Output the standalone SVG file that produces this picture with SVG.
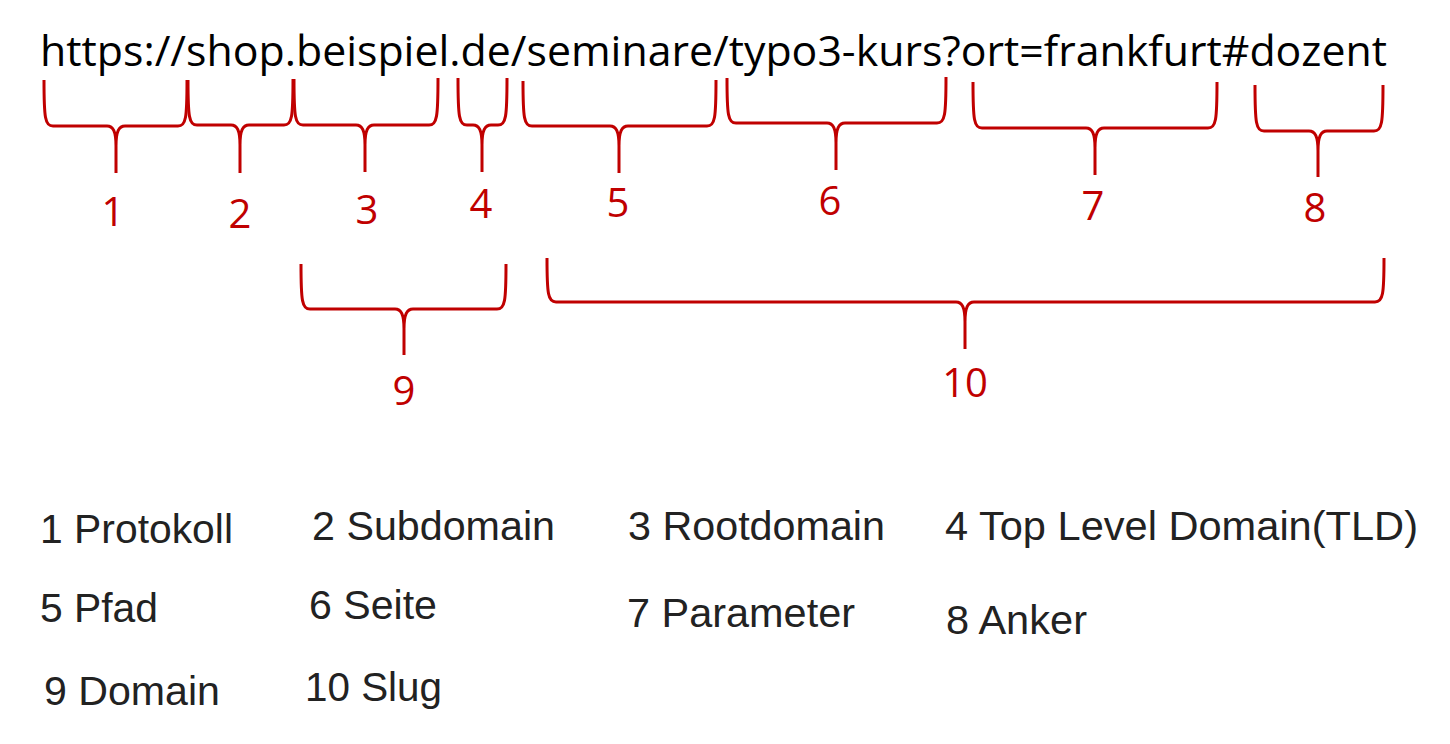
<svg xmlns="http://www.w3.org/2000/svg" width="1450" height="744" viewBox="0 0 1450 744">
<style>
.url{font-family:"Open Sans","Noto Sans",sans-serif;font-size:42px;fill:#000}
.num{font-family:"Open Sans","Noto Sans",sans-serif;font-size:40px;fill:#C00000;text-anchor:middle}
.leg{font-family:"Liberation Sans",Arial,sans-serif;font-size:41px;fill:#222}
.br{fill:none;stroke:#C00000;stroke-width:3;stroke-linejoin:round}
</style>
<rect width="1450" height="744" fill="#fff"/>
<g id="url"><text class="url" x="40" y="66" textLength="1347" lengthAdjust="spacingAndGlyphs">https://shop.beispiel.de/seminare/typo3-kurs?ort=frankfurt#dozent</text></g>
<g id="connectors">
<path class="br" d="M44,80 C44,118 45,126 53,126 L107,126 C113,126 116,131 116,146 L116,173 M116,146 C116,131 119,126 125,126 L178,126 C186,126 187,118 187,80"/>
<path class="br" d="M188,80 C188,117 189,125 197,125 L231,125 C237,125 240,130 240,145 L240,173 M240,145 C240,130 243,125 249,125 L284,125 C292,125 293,117 293,79"/>
<path class="br" d="M294,79 C294,117 295,125 303,125 L356,125 C362,125 365,130 365,145 L365,172 M365,145 C365,130 368,125 374,125 L429,125 C437,125 438,117 438,78"/>
<path class="br" d="M458,78 C458,117 459,125 467,125 L473,125 C479,125 482,130 482,145 L482,172 M482,145 C482,130 485,125 491,125 L498,125 C506,125 507,117 507,78"/>
<path class="br" d="M523,81 C523,118 524,126 532,126 L610,126 C616,126 619,131 619,146 L619,173 M619,146 C619,131 622,126 628,126 L707,126 C715,126 716,118 716,80"/>
<path class="br" d="M727,78 C727,115 728,123 736,123 L827,123 C833,123 836,128 836,143 L836,170 M836,143 C836,128 839,123 845,123 L937,123 C945,123 946,115 946,77"/>
<path class="br" d="M973,82 C973,120 974,128 982,128 L1086,128 C1092,128 1095,133 1095,148 L1095,175 M1095,148 C1095,133 1098,128 1104,128 L1208,128 C1216,128 1217,120 1217,82"/>
<path class="br" d="M1255,85 C1255,123 1256,131 1264,131 L1309,131 C1315,131 1318,136 1318,151 L1318,177 M1318,151 C1318,136 1321,131 1327,131 L1374,131 C1382,131 1383,123 1383,85"/>
<path class="br" d="M301,264 C301,301 302,309 310,309 L395,309 C401,309 404,314 404,329 L404,355 M404,329 C404,314 407,309 413,309 L497,309 C505,309 506,301 506,264"/>
<path class="br" d="M547,258 C547,294 548,302 556,302 L956,302 C962,302 965,307 965,322 L965,349 M965,322 C965,307 968,302 974,302 L1375,302 C1383,302 1384,294 1384,258"/>
</g>
<g id="n1"><text class="num" x="113" y="226">1</text></g>
<g id="n2"><text class="num" x="240" y="228">2</text></g>
<g id="n3"><text class="num" x="367" y="224">3</text></g>
<g id="n4"><text class="num" x="481" y="218">4</text></g>
<g id="n5"><text class="num" x="618" y="217">5</text></g>
<g id="n6"><text class="num" x="830" y="215">6</text></g>
<g id="n7"><text class="num" x="1093" y="220">7</text></g>
<g id="n8"><text class="num" x="1315" y="222">8</text></g>
<g id="n9"><text class="num" x="404" y="405">9</text></g>
<g id="n10"><text class="num" x="965" y="397">10</text></g>
<g id="legend">
<text class="leg" x="40" y="543" textLength="193" lengthAdjust="spacingAndGlyphs">1 Protokoll</text>
<text class="leg" x="312" y="540" textLength="243" lengthAdjust="spacingAndGlyphs">2 Subdomain</text>
<text class="leg" x="628" y="540" textLength="257" lengthAdjust="spacingAndGlyphs">3 Rootdomain</text>
<text class="leg" x="945" y="540" textLength="473" lengthAdjust="spacingAndGlyphs">4 Top Level Domain(TLD)</text>
<text class="leg" x="40" y="622" textLength="118" lengthAdjust="spacingAndGlyphs">5 Pfad</text>
<text class="leg" x="309" y="619" textLength="128" lengthAdjust="spacingAndGlyphs">6 Seite</text>
<text class="leg" x="627" y="627" textLength="228" lengthAdjust="spacingAndGlyphs">7 Parameter</text>
<text class="leg" x="946" y="634" textLength="141" lengthAdjust="spacingAndGlyphs">8 Anker</text>
<text class="leg" x="44" y="705" textLength="176" lengthAdjust="spacingAndGlyphs">9 Domain</text>
<text class="leg" x="305" y="701" textLength="137" lengthAdjust="spacingAndGlyphs">10 Slug</text>
</g>
</svg>
